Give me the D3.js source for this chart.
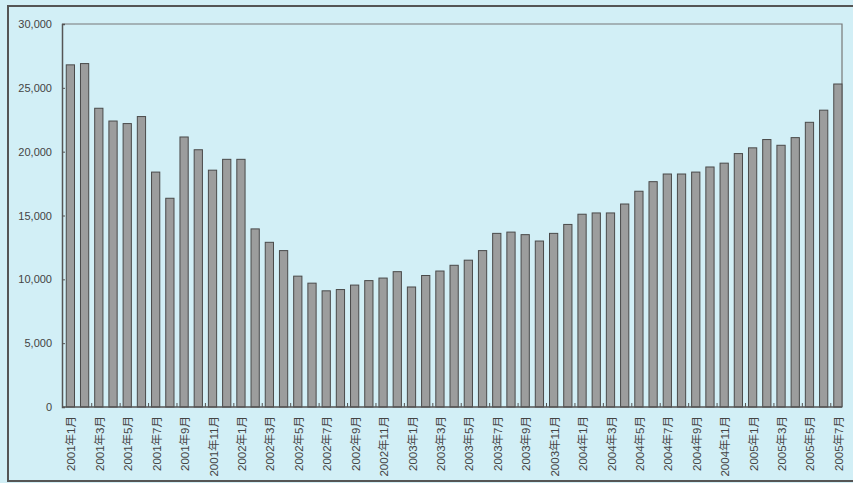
<!DOCTYPE html>
<head>
<meta charset="utf-8">
<style>
body { margin: 0; background: #d2eff6; }
svg { display: block; }
text { font-family: "Liberation Sans", Arial, "Noto Sans CJK JP", sans-serif; fill: #444; }
</style>
</head>
<body>
<script src="https://d3js.org/d3.v7.min.js"></script>
<script>
// monthly values, 2001-01 .. 2005-07
var years = [2001, 2002, 2003, 2004, 2005];
var values = [
	26800, 26900, 23400, 22400, 22200, 22750, 18400, 16350, 21150, 20150, 18550, 19400,
	19400, 13950, 12900, 12250, 10250, 9700, 9100, 9200, 9550, 9900, 10100, 10600,
	9400, 10300, 10650, 11100, 11500, 12250, 13600, 13700, 13500, 13000, 13600, 14300,
	15100, 15200, 15200, 15900, 16900, 17650, 18250, 18250, 18400, 18800, 19100, 19850,
	20300, 20950, 20500, 21100, 22300, 23250, 25300
];
var yTicks = [0, 5000, 10000, 15000, 20000, 25000, 30000];

(function() {
	var
		W = 853,
		H = 483,
		left = 62, right = 842, top = 24, bottom = 407;

	var months = [];
	years.forEach(function(y) {
		for (var m = 1; m <= 12; m++) months.push(y + "年" + m + "月");
	});
	months.length = values.length;

	var sx = d3.scaleBand()
		.domain(months)
		.range([left, right])
		.paddingInner(0.42)
		.paddingOuter(0.15)
		.align(1);

	var sy = d3.scaleLinear()
		.domain([0, 30000])
		.range([bottom, top]);

	var svg = d3.select("body").append("svg")
		.attr("width", W)
		.attr("height", H);

	// outer frame
	svg.append("path")
		.attr("d", "M" + (W + 5) + ",6H8V481H" + (W + 5))
		.attr("fill", "none")
		.attr("stroke", "#555")
		.attr("stroke-width", 2);

	// plot frame top + right
	svg.append("path")
		.attr("d", "M" + left + "," + top + "H" + right + "V" + bottom)
		.attr("fill", "none")
		.attr("stroke", "#777")
		.attr("stroke-width", 1.2);

	svg.append("g").selectAll("rect")
		.data(values)
		.join("rect")
		.attr("x", function(d, i) { return sx(months[i]); })
		.attr("y", function(d) { return sy(d); })
		.attr("width", sx.bandwidth())
		.attr("height", function(d) { return sy(0) - sy(d); })
		.attr("fill", "#9c9d9d")
		.attr("stroke", "#4a4a4a")
		.attr("stroke-width", 1);

	// y axis
	var yAxis = svg.append("g")
		.attr("transform", "translate(" + left + ",0)")
		.call(d3.axisLeft(sy).tickValues(yTicks).tickSize(-3).tickPadding(10)
			.tickFormat(d3.format(",")));
	yAxis.select(".domain").attr("stroke", "#555").attr("stroke-width", 1.5);
	yAxis.selectAll(".tick line").attr("stroke", "#555");
	yAxis.selectAll("text").attr("font-size", 11).attr("fill", "#444");

	// x axis
	var xAxis = svg.append("g")
		.attr("transform", "translate(0," + bottom + ")");
	xAxis.append("line")
		.attr("x1", left).attr("x2", right)
		.attr("stroke", "#555").attr("stroke-width", 1.5);

	var half = sx.step() * sx.paddingInner() / 2;
	xAxis.selectAll(".tk")
		.data(months.filter(function(d, i) { return i % 2 === 1 && i < months.length - 1; }))
		.join("line")
		.attr("class", "tk")
		.attr("x1", function(d) { return sx(d) + sx.bandwidth() + half; })
		.attr("x2", function(d) { return sx(d) + sx.bandwidth() + half; })
		.attr("y1", 0).attr("y2", -4)
		.attr("stroke", "#555");

	xAxis.selectAll("text")
		.data(months.filter(function(d, i) { return i % 2 === 0; }))
		.join("text")
		.attr("transform", function(d) {
			return "translate(" + (sx(d) + sx.bandwidth() / 2 + 1) + ",9) rotate(-90)";
		})
		.attr("text-anchor", "end")
		.attr("dy", "0.35em")
		.attr("font-size", 11.5)
		.text(function(d) { return d; });
})();
</script>
</body>
